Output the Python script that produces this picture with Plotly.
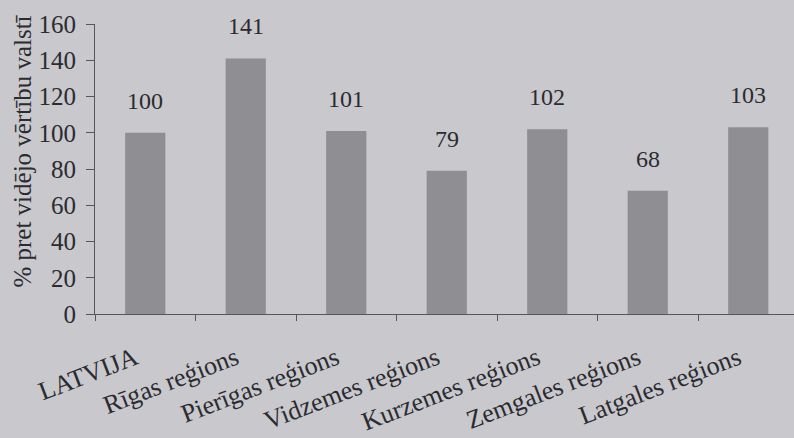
import plotly.graph_objects as go

categories = ["LATVIJA", "Rīgas reģions", "Pierīgas reģions", "Vidzemes reģions",
              "Kurzemes reģions", "Zemgales reģions", "Latgales reģions"]
values = [100, 141, 101, 79, 102, 68, 103]
y_ticks = [0, 20, 40, 60, 80, 100, 120, 140, 160]
y_title = "% pret vidējo vērtību valstī"

BG = "#c8c8cd"
BAR = "#8e8e93"
TXT = "#2b2b30"
AX = "#55555a"
FONT = "Liberation Serif, Times New Roman, Times, serif"

W, H = 794, 438
ML, MT, MB = 95, 24, 124
PW = W - ML  # plot width in px

fig = go.Figure()
fig.add_trace(go.Bar(
    x=categories, y=values,
    marker=dict(color=BAR, line=dict(width=0)),
    width=0.4, hoverinfo="skip",
))

for c, v in zip(categories, values):
    fig.add_annotation(x=c, y=v, text=str(v), showarrow=False,
                       yanchor="bottom", yshift=17,
                       font=dict(family=FONT, size=24, color=TXT))

fig.add_annotation(xref="paper", yref="paper", x=(23 - ML) / PW, y=0.56,
                   xanchor="center", yanchor="middle",
                   text=y_title, textangle=-90, showarrow=False,
                   font=dict(family=FONT, size=25, color=TXT))

fig.update_layout(
    width=W, height=H,
    margin=dict(l=ML, r=0, t=MT, b=MB, pad=0),
    paper_bgcolor=BG, plot_bgcolor=BG,
    showlegend=False,
    font=dict(family=FONT, color=TXT),
    xaxis=dict(
        type="category",
        range=[-0.5, -0.5 + PW / 100.5],
        tickangle=-21, tickfont=dict(family=FONT, size=26, color=TXT),
        ticks="outside", ticklen=6, tickcolor=AX, tickson="boundaries",
        ticklabelstandoff=18, ticklabelshift=-10,
        showline=True, linecolor=AX, linewidth=1,
        showgrid=False, zeroline=False,
    ),
    yaxis=dict(
        range=[0, 160], tickmode="array", tickvals=y_ticks,
        tickfont=dict(family=FONT, size=25, color=TXT),
        ticks="outside", ticklen=8, tickcolor=AX,
        showline=True, linecolor=AX, linewidth=1,
        showgrid=False, zeroline=False, ticklabelstandoff=5,
    ),
)

fig.write_html(
    "out.html",
    config={"displayModeBar": False},
    post_script="document.body.style.margin='0';"
                "document.body.style.background='" + BG + "';",
)
